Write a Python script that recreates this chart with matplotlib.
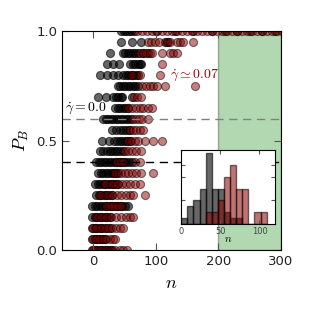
import numpy as np
import matplotlib
matplotlib.use("Agg")
import matplotlib.pyplot as plt

plt.rcParams['mathtext.fontset'] = 'cm'

# P_B levels and the n values of the runs at each level
levels = [0.0, 0.05, 0.10, 0.15, 0.20, 0.25, 0.30, 0.35, 0.40, 0.45, 0.50,
          0.55, 0.60, 0.65, 0.70, 0.75, 0.80, 0.85, 0.90, 0.95, 1.0]

n_black = [
    [-2, 2, 6, 10, 14, 18, 22, 26, 30],
    [-2, 2, 6, 10, 14, 18],
    [-2, 2, 6, 10, 14, 20, 26],
    [-2, 2, 6, 10, 14, 18, 22, 26],
    [-2, 2, 6, 10, 14, 18, 22, 26, 30, 34, 38, 42, 46, 50, 55],
    [5, 9, 13, 17, 21, 25, 30],
    [3, 7, 11, 15, 19, 23, 27, 31, 35, 40],
    [8, 12, 16, 20, 24, 28, 32, 36, 40],
    [5, 9, 13, 17, 21, 25, 29, 33, 37, 41, 45, 49, 53, 57, 62],
    [10, 16, 22, 26, 30, 34, 38, 42, 48],
    [14, 25, 33, 38, 42, 46, 50, 54, 59],
    [30, 37, 42, 47, 52, 57],
    [16, 20, 24, 28, 32, 36, 40, 44, 48, 52, 56, 61],
    [35, 39, 43, 47, 51, 56],
    [8, 20, 32, 36, 40, 44, 46, 62],
    [39, 43, 47, 51, 55, 59, 63, 67, 72],
    [11, 22, 32, 39, 48, 52, 56, 60, 64, 68, 72],
    [22, 31, 41, 59, 63, 67, 71, 75, 77],
    [27, 47, 51, 55, 59, 63, 67, 72, 80, 88],
    [44, 62, 76, 115, 120],
    [45, 49, 53, 57, 61, 65, 100, 130, 160, 190, 210, 230, 250, 270, 290],
]

n_red = [
    [0, 5, 12, 20, 28, 35, 42, 48, 54],
    [0, 4, 9, 15, 21, 27, 32, 35],
    [0, 5, 12, 18, 24, 30, 36, 42, 47],
    [5, 12, 20, 28, 36, 44, 52, 58, 63],
    [20, 26, 32, 38, 44],
    [10, 22, 30, 38, 45, 52, 58, 63, 83],
    [18, 30, 38, 46, 52, 58, 66, 75],
    [34, 44, 50, 56, 62, 68, 77, 96],
    [38, 43, 48, 66, 75],
    [50, 56, 62, 68, 77],
    [55, 61, 66, 72, 83, 96, 110],
    [59, 64, 69, 74, 80],
    [63, 68, 73, 78, 88],
    [56, 62, 68, 74, 80, 88, 94],
    [65, 70, 77],
    [78, 84, 90, 96, 101, 115, 163],
    [62, 75, 107],
    [110],
    [75, 80, 85, 90, 94, 110, 122, 128, 133],
    [88, 93, 99, 105, 118, 123, 133, 138, 143, 160],
    [70, 78, 86, 94, 102, 110, 118, 126, 134, 142, 150, 158, 166, 174, 182,
     190, 198, 206, 214, 222, 230, 238, 246, 254, 262, 270, 278, 286, 294, 302],
]

# inset histogram: bin edges and counts
hist_edges = np.linspace(0, 109.2, 15)
hist_black = [1, 3, 4, 6, 12, 6, 6, 2, 1, 1, 0, 0, 0, 0]
hist_red = [0, 0, 0, 0, 2, 2, 4, 8, 10, 6, 6, 0, 2, 2]

fig = plt.figure(figsize=(3.13, 3.13), dpi=100)
ax = fig.add_axes([0.198, 0.201, 0.700, 0.700])

ax.axvspan(200, 300, facecolor='green', edgecolor='black', alpha=0.3, lw=1)
ax.axhline(0.6, color='gray', ls='--', lw=1, dashes=(6, 4))
ax.axhline(0.4, color='black', ls='--', lw=1, dashes=(6, 4))

for p, nb in zip(levels, n_black):
    ax.scatter(nb, [p] * len(nb), s=34, c='black', edgecolors='black',
               alpha=0.6, linewidths=0.8)
for p, nr in zip(levels, n_red):
    ax.scatter(nr, [p] * len(nr), s=34, c='darkred', edgecolors='black',
               alpha=0.5, linewidths=0.8)

ax.text(-45, 0.635, r'$\dot{\gamma} = 0.0$', fontsize=10, color='black')
ax.text(123, 0.785, r'$\dot{\gamma} \simeq 0.07$', fontsize=10, color='#a00000')

ax.set_xlim(-50, 300)
ax.set_ylim(0, 1)
ax.set_xticks([0, 100, 200, 300])
ax.set_yticks([0.0, 0.5, 1.0])
ax.tick_params(direction='in', top=True, right=True, labelsize=9.5, length=5,
               colors='#555555', labelcolor='#222222')
ax.set_xlabel('$n$', fontsize=13)
ax.set_ylabel('$P_B$', fontsize=13)

# inset
axi = fig.add_axes([0.579, 0.284, 0.300, 0.236])
widths = np.diff(hist_edges)
axi.bar(hist_edges[:-1], hist_black, width=widths, align='edge',
        color='black', edgecolor='black', alpha=0.6, lw=1)
axi.bar(hist_edges[:-1], hist_red, width=widths, align='edge',
        color='darkred', edgecolor='black', alpha=0.55, lw=1)
axi.set_xlim(0, 120)
axi.set_ylim(0, 12.5)
axi.set_xticks([0, 50, 100])
axi.set_yticks([4, 8, 10])
axi.set_yticklabels([])
axi.tick_params(direction='in', top=True, right=True, labelsize=6, length=3,
                colors='#555555', labelcolor='#444444', pad=2)
axi.set_xlabel('$n$', fontsize=8, labelpad=-1)

fig.savefig('out.png', dpi=100)
